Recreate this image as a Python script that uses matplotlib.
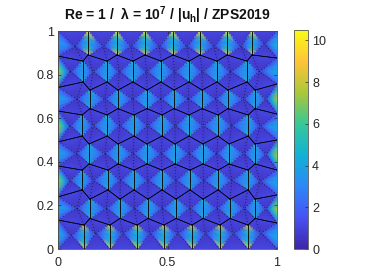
import numpy as np
import matplotlib
matplotlib.use('Agg')
import matplotlib.pyplot as plt
from matplotlib.colors import LinearSegmentedColormap

plt.rcParams['font.family'] = ['Liberation Sans', 'DejaVu Sans']
plt.rcParams['mathtext.fontset'] = 'custom'
plt.rcParams['mathtext.bf'] = 'Liberation Sans:bold'
plt.rcParams['mathtext.rm'] = 'Liberation Sans:bold'
plt.rcParams['mathtext.it'] = 'Liberation Sans:bold:italic'

# vertical mesh edges, one row of x positions per layer (top to bottom)
row_x = [
    [.137, .269, .397, .525, .648, .772, .886],
    [.114, .224, .342, .470, .598, .726, .863],
    [.146, .274, .406, .530, .658, .776, .900],
    [.110, .224, .347, .475, .598, .731, .868],
    [.142, .274, .406, .534, .662, .781, .900],
    [.110, .228, .347, .475, .603, .731, .868],
    [.146, .283, .411, .539, .662, .785, .900],
    [.119, .237, .361, .484, .612, .740, .868],
]
row_top = [1.0, .862, .729, .615, .482, .362, .229, .110]
row_bot = [.890, .766, .644, .518, .390, .271, .140, 0.0]
left_y = [1.0, .885, .741, .633, .491, .381, .239, .133, 0.0]
right_y = [1.0, .876, .757, .619, .500, .362, .248, .119, 0.0]

# |u_h|: along an edge, then halfway to the cell centre
edge_top_val = [10.4, 5.0, 5.0, 5.0, 5.0, 5.0, 5.0, 8.6]
edge_quarter_val = [5.4, 4.0, 4.0, 4.0, 4.0, 4.0, 4.0, 5.4]
edge_mid_val = [4.2, 3.7, 3.7, 3.7, 3.7, 3.7, 3.7, 4.2]
edge_bot_val = [8.8, 5.0, 5.0, 5.0, 5.0, 5.0, 5.0, 10.2]
edge_ring_val = [1.6, 2.5, 2.7, 2.5, 1.6]
left_mid_val = [3.8, 7.4, 4.2, 7.4, 4.2, 7.4, 4.2, 4.6]
left_quarter_val = [3.1, 6.0, 3.3, 6.0, 3.3, 6.0, 3.3, 3.6]
right_mid_val = [4.6, 4.2, 7.4, 4.2, 7.4, 4.2, 7.4, 4.4]
right_quarter_val = [3.6, 3.3, 6.0, 3.3, 6.0, 3.3, 6.0, 3.3]
boundary_end_val = 1.8
peak_ring_val = [1.4, 3.2, 4.6, 3.2, 1.4]
plain_ring_val = [1.2, 2.3, 3.0, 2.3, 1.2]
low_val = [0.9, 1.1, 1.15, 1.1, 0.9]
low_ring_val = [0.8, 0.85, 0.85, 0.85, 0.8]
center_val = 0.5

parula = [(.2422, .1504, .6603), (.2810, .3228, .9579), (.1786, .5289, .9682),
          (.0689, .6948, .8394), (.2161, .7843, .5923), (.6720, .7793, .2227),
          (.9970, .7659, .2199), (.9769, .9839, .0805)]
cmap = LinearSegmentedColormap.from_list('parula', parula)


def top(r, i):
    return (row_x[r][i], row_top[r])


def bot(r, i):
    return (row_x[r][i], row_bot[r])


def cells():
    # every cell is a list of vertices, going round
    out = []
    for r in range(8):
        even = r % 2 == 0
        # left cell
        p = [(0.0, left_y[r])]
        if even and r > 0:
            p.append(bot(r-1, 0))
        p += [top(r, 0), bot(r, 0)]
        if even and r < 7:
            p.append(top(r+1, 0))
        p.append((0.0, left_y[r+1]))
        out.append((r, p))
        # inner cells
        for i in range(6):
            p = [top(r, i)]
            if r > 0:
                p.append(bot(r-1, i) if not even else bot(r-1, i+1))
            p += [top(r, i+1), bot(r, i+1)]
            if r < 7:
                p.append(top(r+1, i+1) if even else top(r+1, i))
            p.append(bot(r, i))
            out.append((r, p))
        # right cell
        p = [top(r, 6)]
        if not even:
            p.append(bot(r-1, 6))
        p += [(1.0, right_y[r]), (1.0, right_y[r+1])]
        if not even and r < 7:
            p.append(top(r+1, 6))
        p.append(bot(r, 6))
        out.append((r, p))
    return out


def edge_values(r, a, b):
    e = boundary_end_val
    if a[0] == b[0] and a[0] == 0.0:
        q = left_quarter_val[r]
        ring = peak_ring_val if left_mid_val[r] > 5 else plain_ring_val
        return [e, q, left_mid_val[r], q, e], ring
    if a[0] == b[0] and a[0] == 1.0:
        q = right_quarter_val[r]
        ring = peak_ring_val if right_mid_val[r] > 5 else plain_ring_val
        return [e, q, right_mid_val[r], q, e], ring
    if a[0] == b[0]:
        va, vb = edge_top_val[r], edge_bot_val[r]
        if a[1] < b[1]:
            va, vb = vb, va
        q = edge_quarter_val[r]
        return [va, q, edge_mid_val[r], q, vb], edge_ring_val
    return low_val, low_ring_val


xs, ys, vals, tris = [], [], [], []
solid, dotted = [], []
for r, poly in cells():
    c = np.mean(poly, axis=0)
    for k in range(len(poly)):
        a, b = poly[k], poly[(k+1) % len(poly)]
        ev, rv = edge_values(r, a, b)
        n = len(xs)
        for j in range(5):
            t = j / 4
            px = a[0] + t*(b[0]-a[0])
            py = a[1] + t*(b[1]-a[1])
            xs += [px, (px+c[0])/2]
            ys += [py, (py+c[1])/2]
            vals += [ev[j], rv[j]]
        xs.append(c[0])
        ys.append(c[1])
        vals.append(center_val)
        for j in range(4):
            e0, r0, e1, r1 = n+2*j, n+2*j+1, n+2*j+2, n+2*j+3
            tris += [[e0, e1, r0], [e1, r1, r0], [r0, r1, n+10]]
        solid.append((a, b))
        dotted.append((a, tuple(c)))

fig = plt.figure(figsize=(3.74, 2.80), dpi=100)
ax = fig.add_axes([58/374, 31/280, 219/374, 218/280])
tp = ax.tripcolor(xs, ys, tris, vals, shading='gouraud', cmap=cmap, vmin=0, vmax=10.5)
for a, b in solid:
    ax.plot([a[0], b[0]], [a[1], b[1]], color='k', lw=0.5, alpha=0.9)
for a, b in dotted:
    ax.plot([a[0], b[0]], [a[1], b[1]], color='k', lw=0.5, ls=(0, (1, 3.5)), alpha=0.9)

ax.set_xlim(0, 1)
ax.set_ylim(0, 1)
ax.set_xticks([0, 0.5, 1])
ax.set_xticklabels(['0', '0.5', '1'])
ax.set_yticks([0, 0.2, 0.4, 0.6, 0.8, 1])
ax.set_yticklabels(['0', '0.2', '0.4', '0.6', '0.8', '1'])
ax.tick_params(direction='in', length=2, width=0.5, labelsize=9, color='#262626',
               labelcolor='#262626', pad=3, top=True, right=True)
ax.tick_params(axis='x', pad=6)
for s in ax.spines.values():
    s.set_linewidth(0.6)
    s.set_color('#555555')

cax = fig.add_axes([294/374, 31/280, 14/374, 219/280])
cb = fig.colorbar(tp, cax=cax)
cb.set_ticks([0, 2, 4, 6, 8, 10])
cb.ax.tick_params(direction='in', length=2, width=0.5, labelsize=9, color='#262626',
                  labelcolor='#262626', pad=3)
cb.outline.set_linewidth(0.6)
cb.outline.set_edgecolor('#555555')

ax.set_title(r'Re = 1 /  $\mathbf{\lambda}$ = 10$\mathbf{^7}$ / |u$\mathbf{_h}$| / ZPS2019',
             fontsize=10, fontweight='bold', color='#111111', pad=8)

fig.savefig('out.png', dpi=100)
